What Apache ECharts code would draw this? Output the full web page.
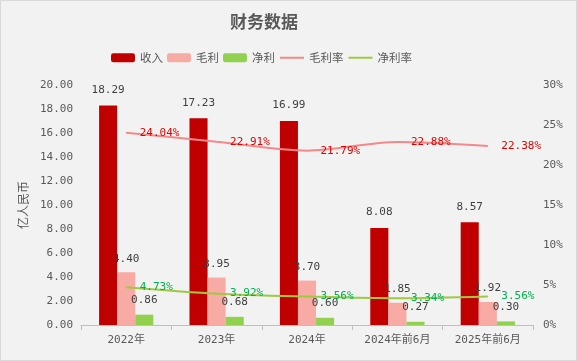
<!DOCTYPE html>
<html><head><meta charset="utf-8">
<script src="https://cdn.jsdelivr.net/npm/echarts@6/dist/echarts.min.js"></script>
<style>html,body{margin:0;padding:0;background:#f2f2f2}#c{width:577px;height:361px}</style>
</head><body><div id="c"></div>
<script>
const categories = ['2022年','2023年','2024年','2024年前6月','2025年前6月'];
const revenue = [18.29, 17.23, 16.99, 8.08, 8.57];
const grossProfit = [4.40, 3.95, 3.70, 1.85, 1.92];
const netProfit = [0.86, 0.68, 0.60, 0.27, 0.30];
const grossMargin = [24.04, 22.91, 21.79, 22.88, 22.38];
const netMargin = [4.73, 3.92, 3.56, 3.34, 3.56];

const FONT = "'DejaVu Sans Mono','Noto Sans CJK SC'";
const chart = echarts.init(document.getElementById('c'), null, {renderer:'canvas'});
chart.setOption({
  backgroundColor: '#f2f2f2',
  animation: false,
  textStyle: {fontFamily: FONT},
  graphic: [{type:'rect', shape:{x:0.5,y:0.5,width:576,height:360}, style:{fill:'none', stroke:'#d9d9d9', lineWidth:1}, silent:true}],
  title: {text:'财务数据', left:225, top:8, textStyle:{fontFamily:"'Noto Sans CJK SC'", fontSize:17, fontWeight:'bold', color:'#595959'}},
  legend: {left:106, top:47, itemWidth:24, itemHeight:9, itemGap:4,
    textStyle:{fontFamily:"'Noto Sans CJK SC'", fontSize:11.5, color:'#595959'},
    data:['收入','毛利','净利',
      {name:'毛利率', itemStyle:{opacity:0}},
      {name:'净利率', itemStyle:{opacity:0}}]},
  grid: {left:81, right:44, top:85, bottom:36},
  xAxis: {type:'category', data:categories,
    axisLine:{lineStyle:{color:'#bfbfbf'}},
    axisTick:{show:true, alignWithLabel:false, length:5, lineStyle:{color:'#bfbfbf'}},
    axisLabel:{color:'#595959', fontSize:11, fontFamily:FONT, margin:10}},
  yAxis: [
    {type:'value', min:0, max:20, interval:2, name:'亿人民币', nameLocation:'middle', nameGap:39, nameRotate:90,
      nameTextStyle:{color:'#595959', fontSize:12, fontFamily:"'Noto Sans CJK SC'"},
      axisLine:{show:false}, axisTick:{show:false}, splitLine:{show:false},
      axisLabel:{color:'#595959', fontSize:11, fontFamily:FONT, formatter:v=>v.toFixed(2)}},
    {type:'value', min:0, max:30, interval:5, position:'right',
      axisLine:{show:false}, axisTick:{show:false}, splitLine:{show:false},
      axisLabel:{color:'#595959', fontSize:11, fontFamily:FONT, formatter:'{value}%', margin:10}}
  ],
  series: [
    {name:'收入', type:'bar', data:revenue, barGap:'0%', barCategoryGap:'40%', itemStyle:{color:'#c00000'},
      label:{show:true, position:'top', color:'#404040', fontSize:11, fontFamily:FONT, formatter:p=>p.value.toFixed(2), distance:10}},
    {name:'毛利', type:'bar', data:grossProfit, itemStyle:{color:'#f8aaa4'},
      label:{show:true, position:'top', color:'#404040', fontSize:11, fontFamily:FONT, formatter:p=>p.value.toFixed(2), distance:8}},
    {name:'净利', type:'bar', data:netProfit, itemStyle:{color:'#92d050'},
      label:{show:true, position:'top', color:'#404040', fontSize:11, fontFamily:FONT, formatter:p=>p.value.toFixed(2), distance:9}},
    {name:'毛利率', type:'line', yAxisIndex:1, data:grossMargin, smooth:0.3, symbol:'circle', symbolSize:1,
      lineStyle:{color:'#f4888a', width:2}, itemStyle:{color:'#f4888a'},
      label:{show:true, position:'right', color:'#e00000', fontSize:11, fontFamily:FONT, formatter:p=>p.value.toFixed(2)+'%', distance:13}},
    {name:'净利率', type:'line', yAxisIndex:1, data:netMargin, smooth:0.3, symbol:'circle', symbolSize:1,
      lineStyle:{color:'#a0c840', width:2}, itemStyle:{color:'#a0c840'},
      label:{show:true, position:'right', color:'#00b050', fontSize:11, fontFamily:FONT, formatter:p=>p.value.toFixed(2)+'%', distance:13}}
  ]
});
</script></body></html>
